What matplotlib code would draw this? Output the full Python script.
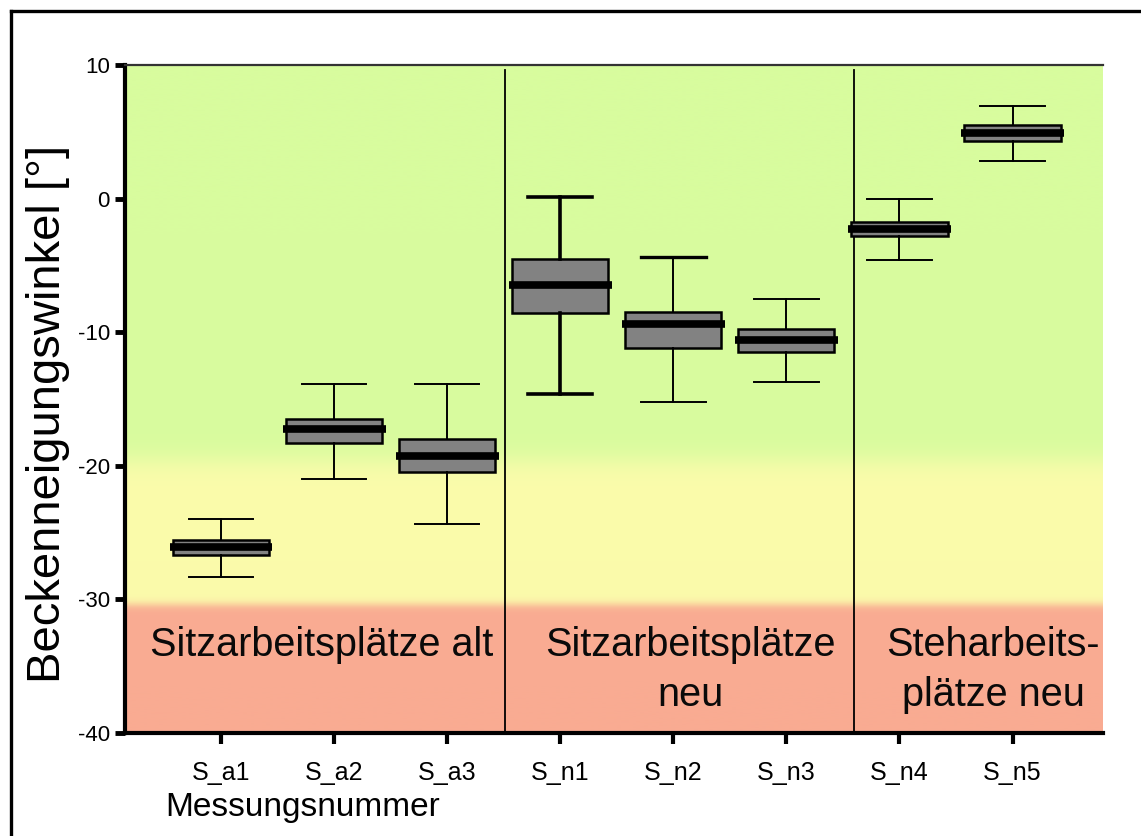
import numpy as np
import matplotlib.pyplot as plt
from matplotlib.lines import Line2D
from matplotlib.colors import to_rgb

plt.rcParams['font.family'] = ['Liberation Sans', 'DejaVu Sans']

# Pelvic tilt angle per measurement (box plot statistics, degrees)
labels = ['S_a1', 'S_a2', 'S_a3', 'S_n1', 'S_n2', 'S_n3', 'S_n4', 'S_n5']
whisker_high = [-24.0, -13.9, -13.9, 0.1, -4.35, -7.5, 0.0, 6.95]
q3 = [-25.55, -16.5, -18.0, -4.55, -8.45, -9.75, -1.75, 5.5]
median = [-26.1, -17.25, -19.3, -6.45, -9.4, -10.6, -2.3, 4.9]
q1 = [-26.7, -18.3, -20.5, -8.55, -11.2, -11.5, -2.8, 4.3]
whisker_low = [-28.3, -20.95, -24.35, -14.6, -15.2, -13.7, -4.6, 2.85]

group_lines = [['Sitzarbeitsplätze alt'],
               ['Sitzarbeitsplätze', 'neu'],
               ['Steharbeits-', 'plätze neu']]
yticks = [10, 0, -10, -20, -30, -40]

# Zone colours of the background (green / yellow / red)
GREEN = to_rgb('#d8fc9e')
YELLOW = to_rgb('#fbfbab')
RED = to_rgb('#f9ab92')

fig = plt.figure(figsize=(11.41, 8.36), dpi=100)
ax = fig.add_axes([0.1096, 0.1232, 0.8571, 0.7990])

XMIN, XMAX = 0.151, 8.80
YMIN, YMAX = -40, 10
ax.set_xlim(XMIN, XMAX)
ax.set_ylim(YMIN, YMAX)

# vertical background gradient
yy = np.linspace(YMAX, YMIN, 800)
w_gy = 1 / (1 + np.exp((yy - (-19.6)) / 0.55))   # green -> yellow
w_yr = 1 / (1 + np.exp((yy - (-30.4)) / 0.18))   # yellow -> red
cols = np.zeros((len(yy), 1, 3))
for c in range(3):
    base = GREEN[c] * (1 - w_gy) + YELLOW[c] * w_gy
    cols[:, 0, c] = base * (1 - w_yr) + RED[c] * w_yr
ax.imshow(cols, extent=(XMIN, XMAX, YMIN, YMAX), aspect='auto',
          interpolation='bilinear', zorder=0)

# box plots
positions = np.arange(1, len(labels) + 1)
stats = [dict(label=l, whislo=lo, q1=a, med=m, q3=b, whishi=hi, fliers=[])
         for l, lo, a, m, b, hi in zip(labels, whisker_low, q1, median, q3, whisker_high)]
res = ax.bxp(stats, positions=positions, widths=0.85, capwidths=0.57,
             showfliers=False, patch_artist=True,
             boxprops=dict(facecolor='#828282', edgecolor='black', linewidth=1.8),
             medianprops=dict(color='black', linewidth=5.5, solid_capstyle='butt'),
             whiskerprops=dict(color='black', linewidth=1.4),
             capprops=dict(color='black', linewidth=1.4),
             zorder=3)
for ln in res['medians']:
    x = np.asarray(ln.get_xdata(), dtype=float)
    ln.set_xdata([x.min() - 0.03, x.max() + 0.03])
# heavier whiskers on S_n1
for art in res['whiskers'][6:8] + res['caps'][6:8]:
    art.set_linewidth(2.6)
res['caps'][9].set_linewidth(2.4)

# group separators
for xs in (3.51, 6.60):
    ax.plot([xs, xs], [YMIN, YMAX - 0.35], color='black', lw=1.3, zorder=2)

# group captions
centers = [1.89, 5.15, 7.83]
for xc, lines in zip(centers, group_lines):
    for i, t in enumerate(lines):
        ax.text(xc, -34.2 - 3.75 * i, t, ha='center', va='baseline',
                fontsize=28.5, color='#0a0a0a', zorder=4)

# axes styling
ax.set_yticks(yticks)
ax.set_yticklabels([str(v) for v in yticks])
ax.set_xticks(positions)
ax.set_xticklabels(labels)
ax.tick_params(axis='y', length=7, width=3.5, direction='out', labelsize=16, pad=4)
ax.tick_params(axis='x', length=8, width=3, direction='out', labelsize=18, pad=12)
for side in ('left', 'bottom'):
    ax.spines[side].set_linewidth(3)
ax.spines['top'].set_linewidth(1.6)
ax.spines['top'].set_color('#333333')
ax.spines['right'].set_visible(False)

fig.text(48 / 1141, 0.5048, 'Beckenneigungswinkel [°]', rotation=90,
         ha='center', va='center', fontsize=34)
fig.text(165 / 1141, 0.0335, 'Messungsnummer', ha='left', va='center', fontsize=24)

# outer frame
fig.add_artist(Line2D([0.0096, 1.0], [0.9868, 0.9868], color='black', lw=2.4,
                      transform=fig.transFigure))
fig.add_artist(Line2D([0.0096, 0.0096], [0.0, 0.9868], color='black', lw=2.4,
                      transform=fig.transFigure))

fig.savefig('out.png', dpi=100)
